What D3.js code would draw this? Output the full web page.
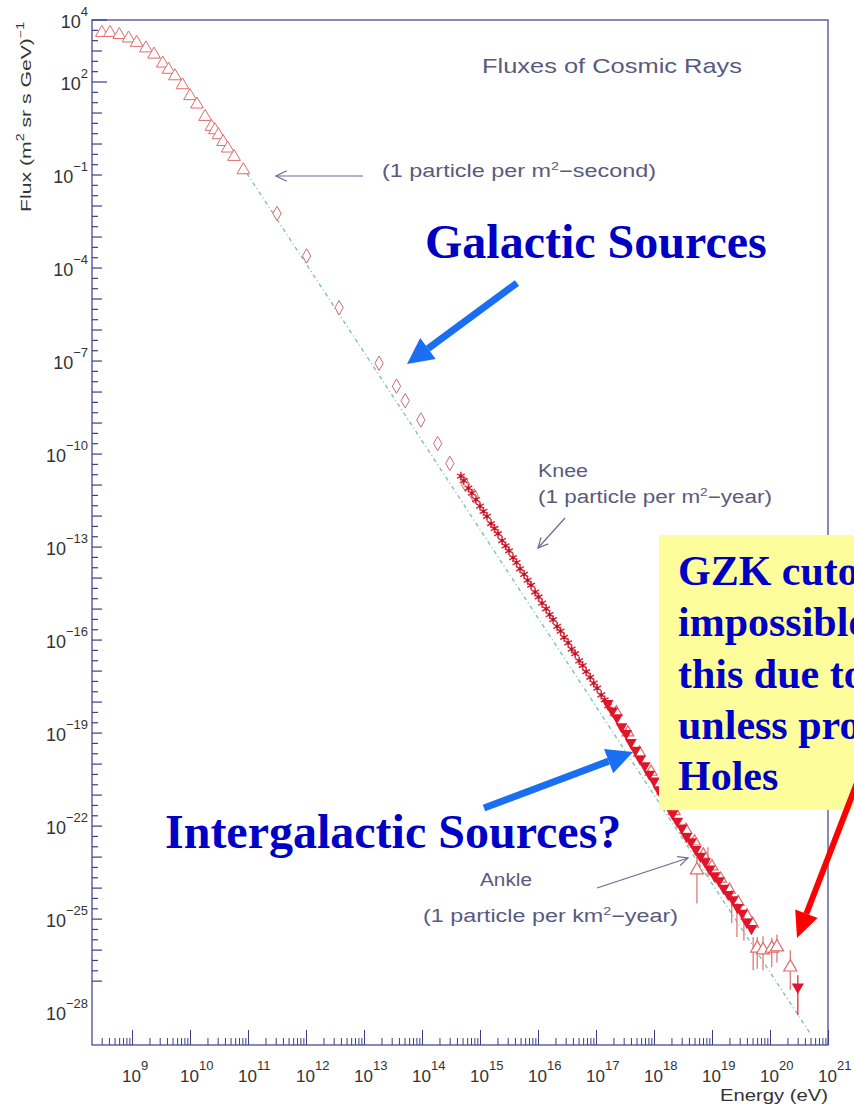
<!DOCTYPE html>
<html>
<head>
<meta charset="utf-8">
<script src="https://cdn.jsdelivr.net/npm/d3@7"></script>
<style>
  body { margin: 0; background: #fff; }
  text { font-family: "Liberation Sans", Arial, sans-serif; }
  .blue { font-family: "Liberation Serif", "Times New Roman", serif; font-weight: bold; fill: #0000c4; }
  .root { fill: #5a5a7e; }
</style>
</head>
<body>
<div id="chart"></div>
<script>
// all values are log10 (energy in eV, flux in m^-2 sr^-1 s^-1 GeV^-1)

// low energy open triangles
var lowTriE = [8.48, 8.62, 8.78, 8.94, 9.08, 9.24, 9.38, 9.53, 9.63, 9.74, 9.87, 10.00, 10.12, 10.26, 10.37, 10.43, 10.49, 10.57, 10.65, 10.76, 10.92];
var lowTriF = [3.59, 3.59, 3.52, 3.41, 3.27, 3.09, 2.89, 2.60, 2.40, 2.19, 1.90, 1.55, 1.28, 0.88, 0.56, 0.45, 0.29, 0.07, -0.14, -0.41, -0.84];

// open diamonds
var diamE = [11.50, 12.01, 12.57, 13.26, 13.56, 13.71, 13.98, 14.27, 14.48, 14.75, 14.90];
var diamF = [-2.24, -3.61, -5.28, -7.07, -7.81, -8.28, -8.90, -9.66, -10.30, -10.98, -11.35];

// air shower stars (knee region)
var starE = [14.67, 14.72, 14.80, 14.86, 14.93, 15.00, 15.06, 15.12, 15.19, 15.25, 15.31, 15.38, 15.44, 15.50,
             15.57, 15.63, 15.69, 15.76, 15.82, 15.88, 15.95, 16.01, 16.07, 16.14, 16.20, 16.26, 16.33, 16.39,
             16.45, 16.52, 16.58, 16.64, 16.71, 16.77, 16.83, 16.90, 16.96, 17.02, 17.09, 17.15, 17.21];
var starF = [-10.71, -10.86, -11.10, -11.26, -11.47, -11.68, -11.85, -12.01, -12.24, -12.40, -12.57, -12.79, -12.96, -13.12,
             -13.34, -13.50, -13.70, -13.88, -14.07, -14.23, -14.45, -14.61, -14.81, -14.99, -15.18, -15.34, -15.56, -15.71,
             -15.91, -16.09, -16.29, -16.44, -16.67, -16.82, -17.02, -17.20, -17.39, -17.55, -17.77, -17.93, -18.12];

// ultra high energy, filled markers
var uheE = [17.20, 17.28, 17.36, 17.44, 17.52, 17.60, 17.68, 17.76, 17.84, 17.92, 18.00, 18.08, 18.16, 18.24, 18.32, 18.40,
            18.48, 18.56, 18.64, 18.72, 18.80, 18.88, 18.96, 19.04, 19.12, 19.20, 19.28, 19.36, 19.44, 19.52, 19.60, 19.68];
var uheF = [-18.04, -18.28, -18.50, -18.79, -19.01, -19.30, -19.55, -19.83, -20.05, -20.32, -20.54, -20.82, -21.05, -21.30, -21.60, -21.84,
            -22.06, -22.33, -22.50, -22.75, -22.97, -23.15, -23.38, -23.60, -23.76, -24.00, -24.20, -24.37, -24.62, -24.81, -25.10, -25.30];

// ultra high energy, open markers
var uheOpenE = [17.35, 17.55, 17.75, 17.95, 18.15, 18.35, 18.55, 18.70, 18.85, 19.00, 19.15, 19.30, 19.45, 19.60, 19.70];
var uheOpenF = [-18.33, -18.98, -19.63, -20.25, -20.86, -21.52, -22.12, -22.50, -22.92, -23.30, -23.70, -24.05, -24.45, -24.88, -25.15];

// sparse points with error bars (open triangles)
var sparseE  = [18.74, 19.78, 19.88, 20.03, 20.12, 20.35];
var sparseF  = [-23.42, -25.94, -26.00, -25.94, -25.90, -26.55];
var sparseLo = [-24.50, -26.60, -26.65, -26.55, -26.40, -27.29];
var sparseHi = [-22.70, -25.58, -25.55, -25.60, -25.50, -26.00];

// extra error bars inside the dense band
var barE  = [18.93, 19.34, 19.43, 19.55, 19.71];
var barLo = [-23.65, -25.13, -25.58, -25.70, -26.65];
var barHi = [-22.68, -24.06, -24.48, -24.70, -25.58];

// highest point, filled
var topE = [20.48];
var topF = [-27.19];
var topLo = [-28.10];
var topHi = [-26.81];

// dashed reference power law (end points)
var fitE = [10.98, 20.69];
var fitF = [-0.945, -28.68];

// axis ticks
var xMajorExp = d3.range(9, 22);
var yLabelExp = [4, 2, -1, -4, -7, -10, -13, -16, -19, -22, -25, -28];

var svgWidth = 854, svgHeight = 1104;
var margin = { top: 20, left: 92, right: 26, bottom: 59 };
var width = svgWidth - margin.left - margin.right;
var height = svgHeight - margin.top - margin.bottom;
var axisColor = "#3c3c8c";

var svg = d3.select("#chart").append("svg")
    .attr("width", svgWidth)
    .attr("height", svgHeight)
    .style("display", "block");

svg.append("rect").attr("width", svgWidth).attr("height", svgHeight).attr("fill", "#fff");

var chartGroup = svg.append("g")
    .attr("transform", `translate(${margin.left}, ${margin.top})`);

var p10 = function(v) { return Math.pow(10, v); };

var xScale = d3.scaleLog().domain([p10(8.31), p10(21)]).range([0, width]);
var yScale = d3.scaleLog().domain([p10(-29.06), p10(4)]).range([height, 0]);

// frame
chartGroup.append("rect")
    .attr("width", width).attr("height", height)
    .attr("fill", "none").attr("stroke", axisColor).attr("stroke-width", 1.2);

// x ticks (inside)
var xMinor = [];
d3.range(8, 21).forEach(function(e) {
    for (var m = 2; m <= 9; m++) {
        var v = m * p10(e);
        if (v > xScale.domain()[0]) xMinor.push(v);
    }
});
chartGroup.append("g")
    .attr("transform", `translate(0, ${height})`)
    .call(d3.axisBottom(xScale).tickValues(xMinor).tickSizeInner(-7).tickSizeOuter(0).tickFormat(""))
    .call(function(g) { g.select(".domain").remove(); g.selectAll("line").attr("stroke", axisColor); });
chartGroup.append("g")
    .attr("transform", `translate(0, ${height})`)
    .call(d3.axisBottom(xScale).tickValues(xMajorExp.map(p10)).tickSizeInner(-15).tickSizeOuter(0).tickFormat(""))
    .call(function(g) { g.select(".domain").remove(); g.selectAll("line").attr("stroke", axisColor); });

// y ticks (inside): every third of a decade
var yTicks = d3.range(0, 94).map(function(k) { return 4 - k / 3; }).filter(function(e) { return e >= -29.05; });
function yTickLen(e) {
    var r = Math.round(e * 3);
    if (r % 9 === 6 || r === 12) return 15;     // labelled decades
    if (r % 3 === 0) return 10;
    return 6;
}
chartGroup.append("g")
    .selectAll("line")
    .data(yTicks)
    .enter()
    .append("line")
    .attr("x1", 0)
    .attr("x2", d => yTickLen(d))
    .attr("y1", d => yScale(p10(d)))
    .attr("y2", d => yScale(p10(d)))
    .attr("stroke", axisColor)
    .attr("stroke-width", 1.2);

// tick labels
var xLab = chartGroup.append("g").selectAll("text")
    .data(xMajorExp)
    .enter()
    .append("text")
    .attr("x", d => xScale(p10(d)) - 10)
    .attr("y", height + 37)
    .attr("font-size", "17px")
    .attr("fill", "#333");
xLab.append("tspan").text("10");
xLab.append("tspan").attr("dy", -12).attr("font-size", "13px").text(d => d);

var yLab = chartGroup.append("g").selectAll("text")
    .data(yLabelExp)
    .enter()
    .append("text")
    .attr("x", -4)
    .attr("y", d => yScale(p10(d)) + 8)
    .attr("text-anchor", "end")
    .attr("font-size", "18px")
    .attr("fill", "#333");
yLab.append("tspan").text("10");
yLab.append("tspan").attr("dy", -12).attr("font-size", "13px").text(d => d < 0 ? "\u2212" + (-d) : d);

// axis titles
chartGroup.append("text")
    .attr("x", width)
    .attr("y", height + 56)
    .attr("text-anchor", "end")
    .attr("font-size", "16px")
    .attr("textLength", 108)
    .attr("lengthAdjust", "spacingAndGlyphs")
    .attr("fill", "#333")
    .text("Energy (eV)");

var yTitle = chartGroup.append("text")
    .attr("transform", "rotate(-90)")
    .attr("x", -2)
    .attr("y", -61)
    .attr("text-anchor", "end")
    .attr("font-size", "15px")
    .attr("textLength", 190)
    .attr("lengthAdjust", "spacingAndGlyphs")
    .attr("fill", "#333");
yTitle.append("tspan").text("Flux (m");
yTitle.append("tspan").attr("dy", -7).attr("font-size", "10px").text("2");
yTitle.append("tspan").attr("dy", 7).text(" sr s GeV)");
yTitle.append("tspan").attr("dy", -7).attr("font-size", "10px").text("\u22121");

// reference power law
var fitLine = d3.line()
    .x(d => xScale(p10(d[0])))
    .y(d => yScale(p10(d[1])));
chartGroup.append("path")
    .datum(d3.zip(fitE, fitF))
    .attr("d", fitLine)
    .attr("fill", "none")
    .attr("stroke", "#7cc4ac")
    .attr("stroke-width", 1.4)
    .attr("stroke-dasharray", "4,3,1,3");

// error bars
function errBars(E, lo, hi, color) {
    chartGroup.append("g").selectAll("line")
        .data(d3.range(E.length))
        .enter()
        .append("line")
        .attr("x1", i => xScale(p10(E[i])))
        .attr("x2", i => xScale(p10(E[i])))
        .attr("y1", i => yScale(p10(lo[i])))
        .attr("y2", i => yScale(p10(hi[i])))
        .attr("stroke", color)
        .attr("stroke-width", 1.3);
}
errBars(sparseE, sparseLo, sparseHi, "#e07a7a");
errBars(barE, barLo, barHi, "#e07a7a");
errBars(topE, topLo, topHi, "#d83030");

// markers
function markers(E, F, type, size, opt) {
    var sym = d3.symbol().type(type).size(size);
    chartGroup.append("g").selectAll("path")
        .data(d3.zip(E, F))
        .enter()
        .append("path")
        .attr("d", sym)
        .attr("transform", d => `translate(${xScale(p10(d[0]))}, ${yScale(p10(d[1]))})` + (opt.rot ? " rotate(180)" : ""))
        .attr("fill", opt.fill || "none")
        .attr("stroke", opt.stroke || "none")
        .attr("stroke-width", opt.sw || 1);
}
markers(lowTriE, lowTriF, d3.symbolTriangle, 70, { stroke: "#e06a6a", fill: "#fff" });
markers(diamE, diamF, d3.symbolDiamond, 60, { stroke: "#c86c6c", fill: "#fff" });
markers(starE, starF, d3.symbolAsterisk, 55, { stroke: "#d8283a", sw: 1.5 });
markers(starE, starF, d3.symbolCircle, 8, { fill: "#b01828" });
markers(uheOpenE, uheOpenF, d3.symbolTriangle, 60, { stroke: "#e06a6a", fill: "none", sw: 1.2 });
markers(uheE, uheF, d3.symbolTriangle, 60, { fill: "#e0142a", rot: true });
markers(sparseE, sparseF, d3.symbolTriangle, 75, { stroke: "#e06a6a", fill: "#fff", sw: 1.2 });
markers(topE, topF, d3.symbolTriangle, 65, { fill: "#e0142a", rot: true });

// ROOT style annotations
function vArrow(x1, y1, x2, y2, color, head, w) {
    var a = Math.atan2(y2 - y1, x2 - x1);
    var g = svg.append("g").attr("stroke", color).attr("stroke-width", w).attr("fill", "none");
    g.append("line").attr("x1", x1).attr("y1", y1).attr("x2", x2).attr("y2", y2);
    g.append("path").attr("d",
        `M${x2 - head * Math.cos(a - 0.45)},${y2 - head * Math.sin(a - 0.45)} L${x2},${y2} L${x2 - head * Math.cos(a + 0.45)},${y2 - head * Math.sin(a + 0.45)}`);
}

svg.append("text").attr("class", "root").attr("x", 482).attr("y", 73)
    .attr("font-size", "21px").attr("textLength", 260).attr("lengthAdjust", "spacingAndGlyphs")
    .text("Fluxes of Cosmic Rays");

function sup2Text(x, y, before, after, len) {
    var t = svg.append("text").attr("class", "root").attr("x", x).attr("y", y).attr("font-size", "18px")
        .attr("textLength", len).attr("lengthAdjust", "spacingAndGlyphs");
    t.append("tspan").text(before);
    t.append("tspan").attr("dy", -7).attr("font-size", "11px").text("2");
    t.append("tspan").attr("dy", 7).text(after);
    return t;
}
sup2Text(382, 177, "(1 particle per m", "\u2212second)", 274);
vArrow(363, 176, 276, 176, "#6a6a94", 12, 1.2);

svg.append("text").attr("class", "root").attr("x", 538).attr("y", 477).attr("font-size", "18px")
    .attr("textLength", 50).attr("lengthAdjust", "spacingAndGlyphs").text("Knee");
sup2Text(538, 503, "(1 particle per m", "\u2212year)", 234);
vArrow(565, 518, 538, 548, "#6a6a94", 11, 1.2);

svg.append("text").attr("class", "root").attr("x", 480).attr("y", 886).attr("font-size", "18px")
    .attr("textLength", 52).attr("lengthAdjust", "spacingAndGlyphs").text("Ankle");
sup2Text(423, 922, "(1 particle per km", "\u2212year)", 255);
vArrow(597, 888, 688, 858, "#6a6a94", 11, 1.2);

// slide overlays
function fatArrow(x1, y1, x2, y2, color, w, hl, hw) {
    var a = Math.atan2(y2 - y1, x2 - x1);
    var bx = x2 - hl * Math.cos(a), by = y2 - hl * Math.sin(a);
    svg.append("line").attr("x1", x1).attr("y1", y1).attr("x2", bx).attr("y2", by)
        .attr("stroke", color).attr("stroke-width", w);
    svg.append("path")
        .attr("d", `M${x2},${y2} L${bx + hw * Math.sin(a)},${by - hw * Math.cos(a)} L${bx - hw * Math.sin(a)},${by + hw * Math.cos(a)} Z`)
        .attr("fill", color);
}

svg.append("text").attr("class", "blue").attr("x", 425).attr("y", 258).attr("font-size", "48px").text("Galactic Sources");
fatArrow(517, 283, 407, 364, "#1a6ef2", 7, 26, 13);

svg.append("text").attr("class", "blue").attr("x", 165).attr("y", 848).attr("font-size", "48px").text("Intergalactic Sources?");
fatArrow(484, 808, 633, 752, "#1a6ef2", 7, 26, 13);

// yellow note box, cut by the right edge of the slide
svg.append("rect").attr("x", 659).attr("y", 535).attr("width", 200).attr("height", 275).attr("fill", "#fdfd9c");
var boxLines = ["GZK cutoff", "impossible", "this due to", "unless produced", "Holes"];
svg.append("g").selectAll("text")
    .data(boxLines)
    .enter()
    .append("text")
    .attr("class", "blue")
    .attr("x", 678)
    .attr("y", (d, i) => 585 + i * 51.3)
    .attr("font-size", "42px")
    .text(d => d);

fatArrow(862, 770, 797, 938, "#ff0000", 6, 26, 12);
</script>
</body>
</html>
